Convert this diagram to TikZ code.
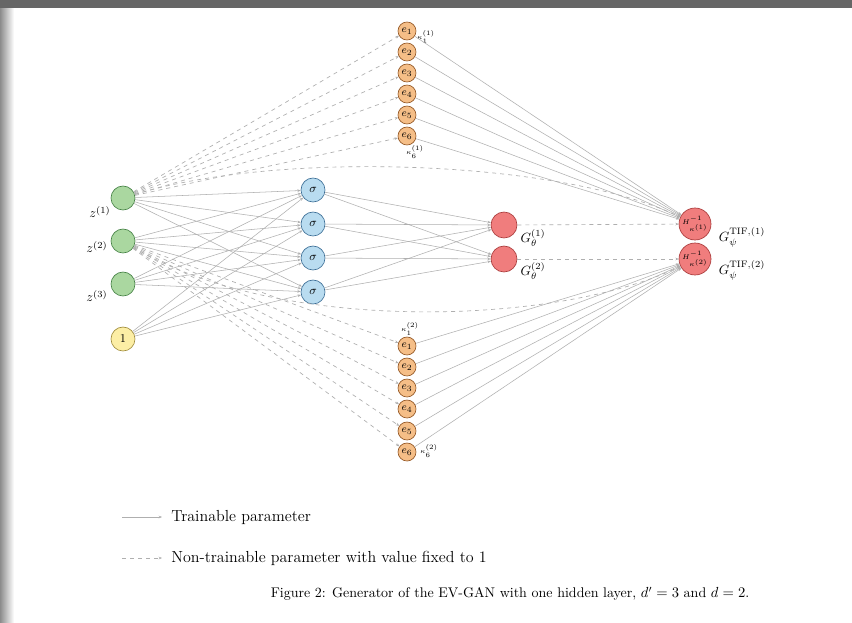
\documentclass[tikz,border=0pt]{standalone}
\usetikzlibrary{arrows.meta}
\definecolor{inGreen}{RGB}{170,215,160}
\definecolor{inGreenD}{RGB}{70,130,70}
\definecolor{hidBlue}{RGB}{185,220,240}
\definecolor{hidBlueD}{RGB}{60,110,150}
\definecolor{outRed}{RGB}{240,125,125}
\definecolor{outRedD}{RGB}{170,60,60}
\definecolor{eOrange}{RGB}{245,190,135}
\definecolor{eOrangeD}{RGB}{150,90,40}
\definecolor{biasYel}{RGB}{252,238,165}
\definecolor{biasYelD}{RGB}{160,140,60}
\definecolor{edgeGray}{RGB}{175,175,175}
\begin{document}
\begin{tikzpicture}[x=0.75pt,y=-0.75pt,
  neuron/.style={circle,draw,line width=0.5pt,inner sep=0pt},
  innode/.style={neuron,fill=inGreen,draw=inGreenD,minimum size=18pt},
  biasnode/.style={neuron,fill=biasYel,draw=biasYelD,minimum size=18pt,font=\small},
  hidnode/.style={neuron,fill=hidBlue,draw=hidBlueD,minimum size=18pt,font=\small},
  gnode/.style={neuron,fill=outRed,draw=outRedD,minimum size=19.5pt},
  hnode/.style={neuron,fill=outRed,draw=outRedD,minimum size=24pt,font=\tiny},
  enode/.style={neuron,fill=eOrange,draw=eOrangeD,minimum size=13.5pt,font=\footnotesize},
  trainable/.style={draw=edgeGray,line width=0.4pt,-{Stealth[length=2.5pt,width=2pt]}},
  fixedone/.style={draw=edgeGray,line width=0.5pt,dashed,-{Stealth[length=2.5pt,width=2pt]}},
  lbl/.style={inner sep=1pt},
  legendtext/.style={anchor=west,inner sep=0pt,font=\fontsize{12}{14}\selectfont}]

\useasboundingbox (0,0) rectangle (852,622);
% page frame: dark band on top, soft shadow on the left
\fill[white] (0,0) rectangle (852,622);
\shade[left color=black!45,right color=white] (0,0) rectangle (14,622);
\fill[black!60] (0,0) rectangle (852,8);

% input layer and bias
\node[innode] (z1) at (123,198) {};
\node[innode] (z2) at (123,241) {};
\node[innode] (z3) at (123,284) {};
\node[biasnode] (b) at (123,339) {$1$};
\node[lbl] (lz1) at (100,212) {$z^{(1)}$};
\node[lbl] (lz2) at (97,247) {$z^{(2)}$};
\node[lbl] (lz3) at (97,296) {$z^{(3)}$};

% hidden layer
\foreach \i/\y in {1/190,2/224,3/258,4/292}
  \node[hidnode] (s\i) at (313,\y) {$\sigma$};

% generator outputs
\node[gnode] (g1) at (504,225) {};
\node[gnode] (g2) at (504,259) {};
\node[lbl] (lg1) at (533,238) {$G_\theta^{(1)}$};
\node[lbl] (lg2) at (533,271) {$G_\theta^{(2)}$};

% transformed outputs
\node[hnode] (h1) at (695,224) {$H^{-1}_{\kappa^{(1)}}$};
\node[hnode] (h2) at (695,259) {$H^{-1}_{\kappa^{(2)}}$};
\node[lbl] (lh1) at (742,237) {$G_\psi^{\mathrm{TIF},(1)}$};
\node[lbl] (lh2) at (742,270) {$G_\psi^{\mathrm{TIF},(2)}$};

% exponent units
\foreach \i/\y in {1/31,2/52,3/73,4/94,5/115,6/136}
  \node[enode] (ea\i) at (407,\y) {$e_{\i}$};
\foreach \i/\y in {1/346,2/367,3/388,4/409,5/431,6/452}
  \node[enode] (eb\i) at (407,\y) {$e_{\i}$};
\node[lbl,font=\tiny] (ka1) at (426,37) {$\kappa_1^{(1)}$};
\node[lbl,font=\tiny] (ka6) at (415,152) {$\kappa_6^{(1)}$};
\node[lbl,font=\tiny] (kb1) at (410,329) {$\kappa_1^{(2)}$};
\node[lbl,font=\tiny] (kb6) at (429,451) {$\kappa_6^{(2)}$};

% trainable weights
\foreach \a in {z1,z2,z3,b}
  \foreach \s in {s1,s2,s3,s4}
    \draw[trainable] (\a) -- (\s);
\foreach \s in {s1,s2,s3,s4}
  \foreach \g in {g1,g2}
    \draw[trainable] (\s) -- (\g);
\foreach \i in {1,...,6} {
  \draw[trainable] (ea\i) -- (h1);
  \draw[trainable] (eb\i) -- (h2);
}

% weights fixed to one
\foreach \i in {1,...,6} {
  \draw[fixedone] (z1) -- (ea\i);
  \draw[fixedone] (z2) -- (eb\i);
}
\draw[fixedone] (z1) .. controls (280,150) and (560,160) .. (h1);
\draw[fixedone] (z2) .. controls (280,335) and (560,325) .. (h2);
\draw[fixedone] (g1) -- (h1);
\draw[fixedone] (g2) -- (h2);

% legend
\coordinate (ls1) at (122,517);
\coordinate (ls2) at (162,517);
\coordinate (ld1) at (122,558);
\coordinate (ld2) at (162,558);
\draw[trainable] (ls1) -- (ls2);
\draw[fixedone] (ld1) -- (ld2);
\node[legendtext] (lt1) at (171,517) {Trainable parameter};
\node[legendtext] (lt2) at (171,558) {Non-trainable parameter with value fixed to 1};

% caption
\node[inner sep=0pt,font=\fontsize{10.5}{13}\selectfont] (cap) at (510,594) {Figure 2: Generator of the EV-GAN with one hidden layer, $d'=3$ and $d=2$.};
\end{tikzpicture}
\end{document}
